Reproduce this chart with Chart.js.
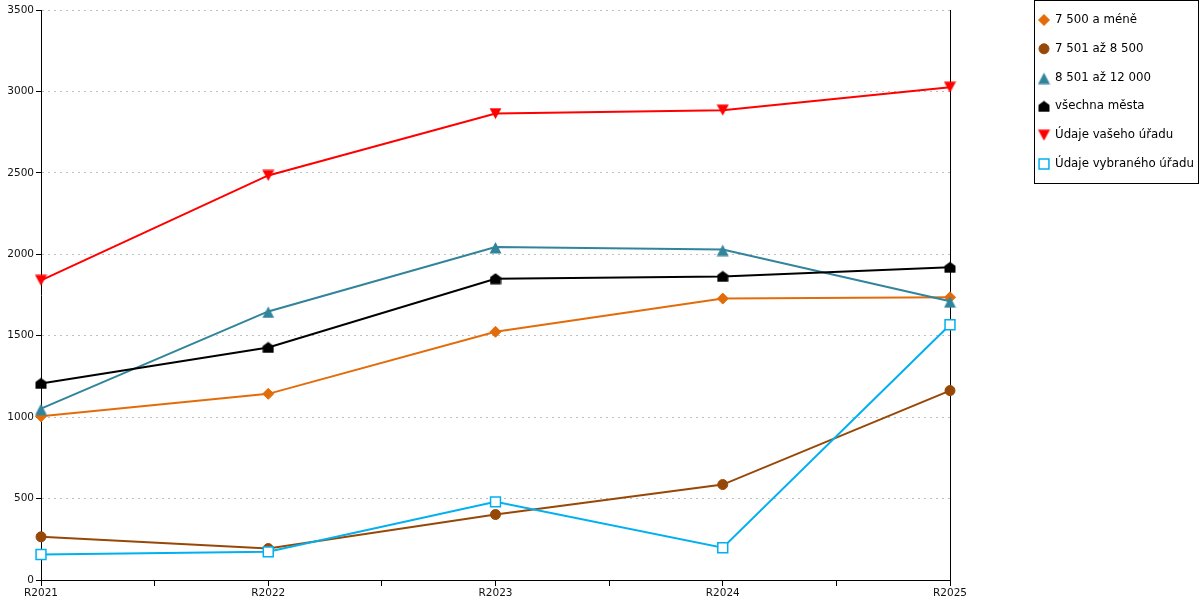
<!DOCTYPE html>
<html lang="cs">
<head>
<meta charset="utf-8">
<title>Graf</title>
<script src="https://cdn.jsdelivr.net/npm/chart.js@4/dist/chart.umd.min.js"></script>
<style>
    body { margin: 0; background: #fff; }
    #wrap { width: 1200px; height: 600px; }
</style>
</head>
<body>
<div id="wrap"><canvas id="chart" width="1200" height="600"></canvas></div>
<script>
const years = ['R2021', 'R2022', 'R2023', 'R2024', 'R2025'];
const seriesNames = ['7 500 a méně', '7 501 až 8 500', '8 501 až 12 000', 'všechna města', 'Údaje vašeho úřadu', 'Údaje vybraného úřadu'];
const upTo7500 = [1005, 1143, 1524, 1728, 1736];
const from7501 = [265, 193, 402, 586, 1163];
const from8501 = [1052, 1649, 2045, 2029, 1712];
const allCities = [1207, 1428, 1850, 1864, 1920];
const yourOffice = [1840, 2484, 2864, 2885, 3026];
const selectedOffice = [157, 173, 480, 198, 1567];
const yMax = 3500;
const yStep = 500;

// small canvases for marker shapes chart.js doesn't have
function makeShape(kind, color) {
    const c = document.createElement('canvas');
    if (kind === 'up') { c.width = 13; c.height = 14; }
    else if (kind === 'down') { c.width = 13; c.height = 12; }
    else { c.width = 12; c.height = 12; }
    const g = c.getContext('2d');
    g.fillStyle = color;
    g.beginPath();
    if (kind === 'up') {
        g.moveTo(6.5, 2); g.lineTo(12.5, 13.5); g.lineTo(0.5, 13.5);
    } else if (kind === 'down') {
        g.moveTo(0.5, 0.5); g.lineTo(12.5, 0.5); g.lineTo(6.5, 11.5);
    } else {
        g.moveTo(6, 0.5); g.lineTo(11.5, 4.5); g.lineTo(11.5, 11.5);
        g.lineTo(0.5, 11.5); g.lineTo(0.5, 4.5);
    }
    g.closePath();
    g.fill();
    return c;
}

const colors = ['#E36C0A', '#974806', '#31849B', '#000000', '#FF0000', '#00B0F0'];
const styles = ['rectRot', 'circle', makeShape('up', colors[2]), makeShape('house', colors[3]), makeShape('down', colors[4]), 'rect'];
const radii = [5.5, 5, 6, 6, 6, 7];
const values = [upTo7500, from7501, from8501, allCities, yourOffice, selectedOffice];

const datasets = values.map((vals, i) => ({
    label: seriesNames[i],
    data: vals.map((v, k) => ({ x: k, y: v })),
    borderColor: colors[i],
    backgroundColor: colors[i],
    pointBackgroundColor: i === 5 ? '#ffffff' : colors[i],
    pointBorderColor: colors[i],
    pointBorderWidth: i === 5 ? 1.5 : 1,
    pointStyle: styles[i],
    pointRadius: radii[i],
    borderWidth: 2,
    tension: 0,
    clip: false,
    order: 10 - i
}));

function drawMarker(ctx, ds, x, y) {
    const st = ds.pointStyle;
    const r = ds.pointRadius;
    ctx.save();
    ctx.fillStyle = ds.pointBackgroundColor;
    ctx.strokeStyle = ds.pointBorderColor;
    ctx.lineWidth = ds.pointBorderWidth;
    if (typeof st !== 'string') {
        ctx.drawImage(st, x - st.width / 2, y - st.height / 2);
    } else {
        ctx.beginPath();
        if (st === 'circle') {
            ctx.arc(x, y, r, 0, Math.PI * 2);
        } else if (st === 'rectRot') {
            ctx.moveTo(x, y - r); ctx.lineTo(x + r, y); ctx.lineTo(x, y + r); ctx.lineTo(x - r, y);
            ctx.closePath();
        } else {
            const h = r * Math.SQRT1_2;
            ctx.rect(x - h, y - h, 2 * h, 2 * h);
        }
        ctx.fill();
        ctx.stroke();
    }
    ctx.restore();
}

const boxLegend = {
    id: 'boxLegend',
    afterDraw(chart) {
        const ctx = chart.ctx;
        ctx.save();
        ctx.strokeStyle = '#000';
        ctx.lineWidth = 1;
        ctx.strokeRect(1034.5, 0.5, 164, 183);
        ctx.font = '11.8px "DejaVu Sans"';
        ctx.fillStyle = '#000';
        ctx.textBaseline = 'middle';
        chart.data.datasets.forEach((ds, i) => {
            const y = 20 + i * 28.8;
            drawMarker(ctx, ds, 1044, y);
            ctx.fillText(ds.label, 1055, y);
        });
        ctx.restore();
    }
};

new Chart(document.getElementById('chart'), {
    type: 'line',
    data: { datasets },
    plugins: [boxLegend],
    options: {
        responsive: false,
        animation: false,
        layout: { padding: { top: 10, right: 250, left: 0, bottom: 0 } },
        plugins: {
            legend: { display: false },
            tooltip: { enabled: false }
        },
        scales: {
            x: {
                type: 'linear',
                min: 0,
                max: years.length - 1,
                afterFit: (scale) => { scale.height = 20; },
                ticks: {
                    stepSize: 0.5,
                    autoSkip: false,
                    maxRotation: 0,
                    padding: 1,
                    color: '#111',
                    font: { family: 'DejaVu Sans', size: 10.5 },
                    callback: (v) => Number.isInteger(v) ? years[v] : ''
                },
                grid: {
                    color: (c) => c.tick && c.tick.value === years.length - 1 ? '#000' : 'rgba(0,0,0,0)',
                    tickColor: '#000',
                    tickLength: 6
                },
                border: { color: '#000' }
            },
            y: {
                min: 0,
                max: yMax,
                afterFit: (scale) => { scale.width = 41; },
                ticks: {
                    stepSize: yStep,
                    padding: 2,
                    color: '#111',
                    font: { family: 'DejaVu Sans', size: 10.5 },
                    callback: (v) => String(v)
                },
                grid: {
                    color: (c) => c.tick && c.tick.value === 0 ? 'rgba(0,0,0,0)' : '#BFBFBF',
                    tickColor: '#000',
                    tickLength: 5
                },
                border: { color: '#000', dash: [2, 4] }
            }
        }
    }
});
</script>
</body>
</html>
